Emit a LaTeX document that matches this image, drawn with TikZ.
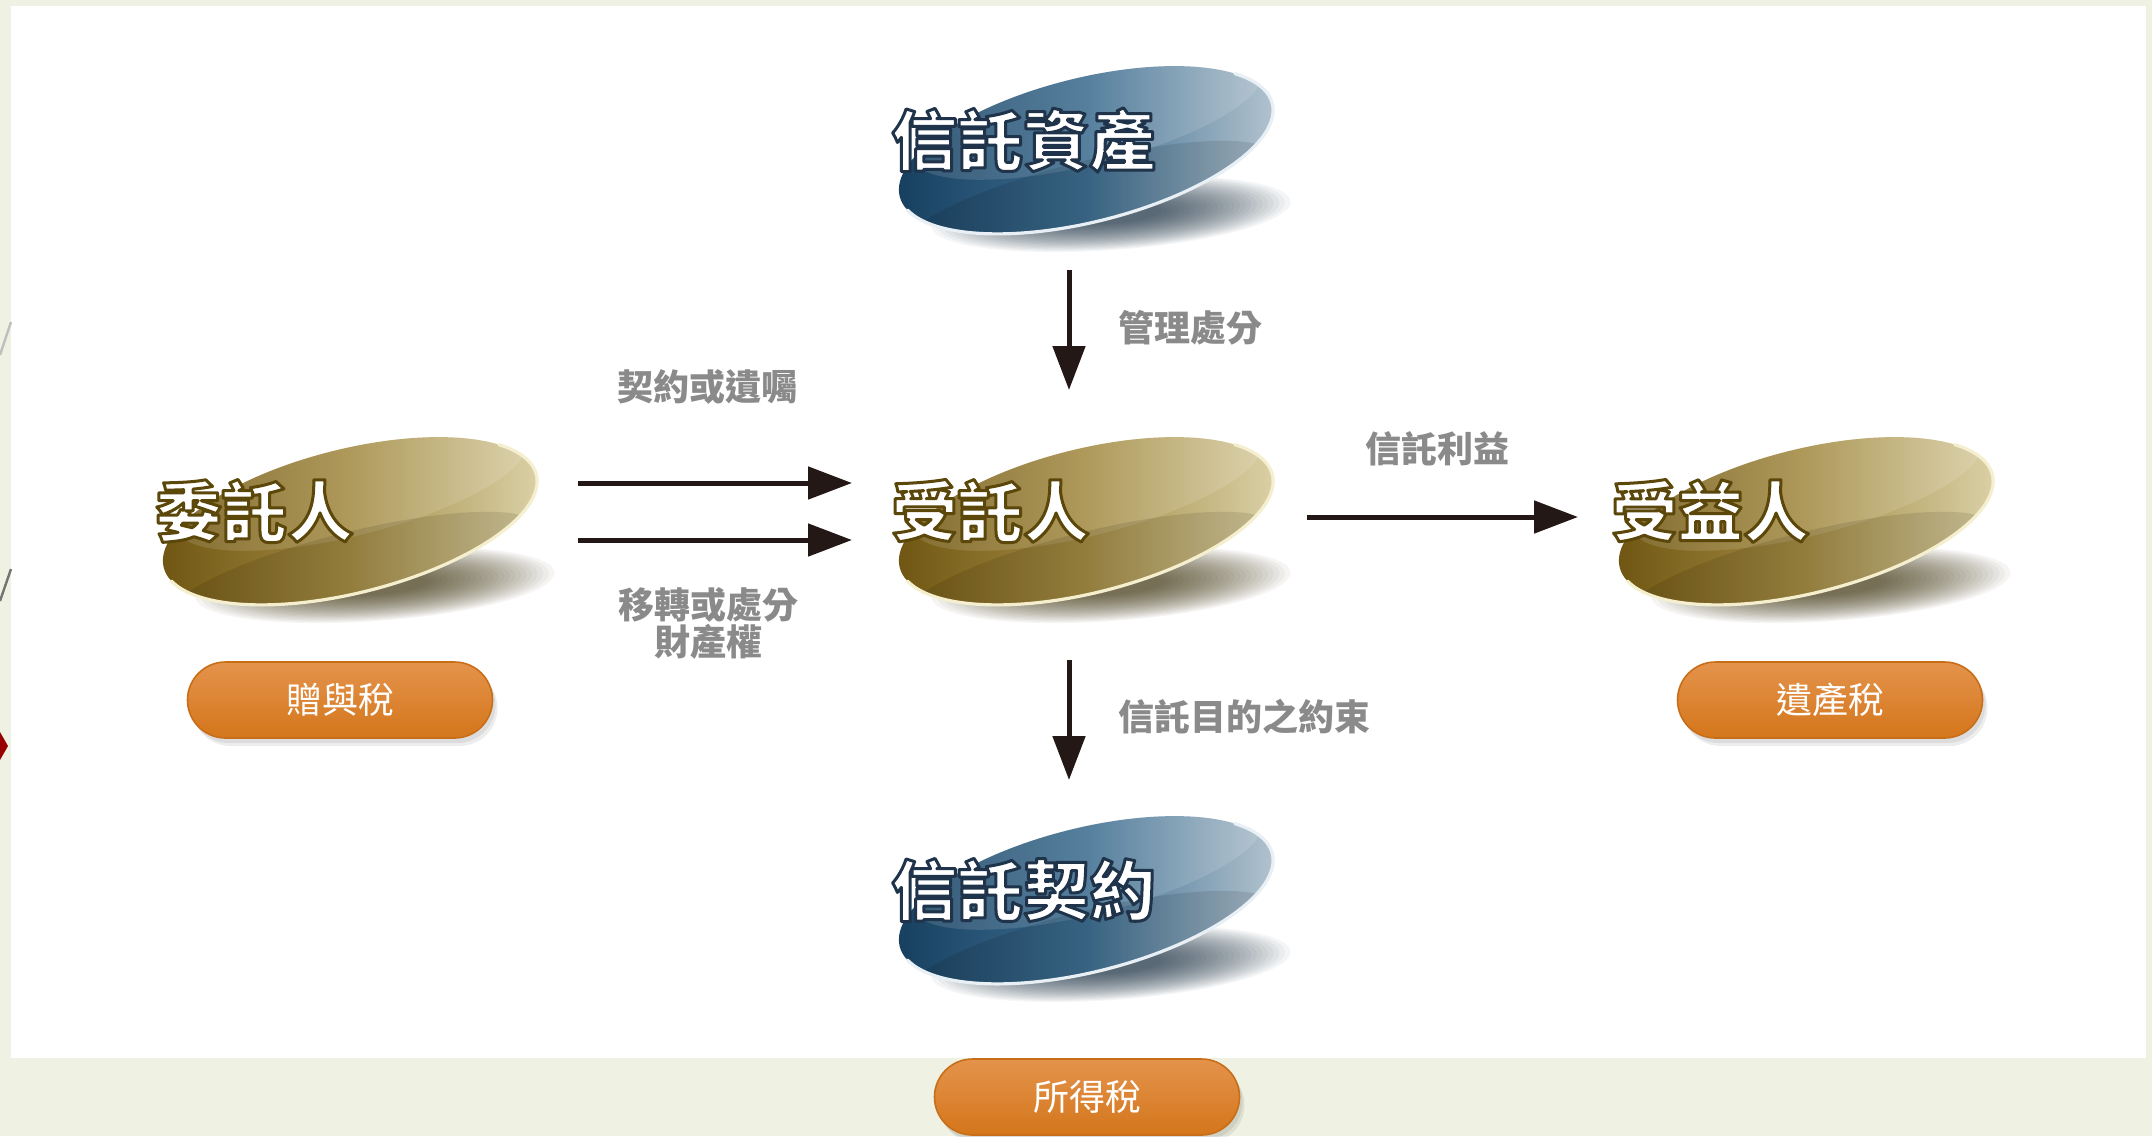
\documentclass[tikz,border=0pt]{standalone}
\usepackage{fontspec}
\newfontfamily\cjk{Noto Sans CJK TC}
\usetikzlibrary{arrows.meta}
\definecolor{bg}{HTML}{EFF2E3}
\definecolor{gdark}{HTML}{6E5410}
\definecolor{gmid}{HTML}{A48C45}
\definecolor{glight}{HTML}{DCD3AA}
\definecolor{grim}{HTML}{F5EFCF}
\definecolor{gshadow}{HTML}{3A2C05}
\definecolor{bdark}{HTML}{163E5E}
\definecolor{bmid}{HTML}{3E6E90}
\definecolor{blight}{HTML}{B7C6D1}
\definecolor{brim}{HTML}{E8F0F5}
\definecolor{bshadow}{HTML}{0E2639}
\definecolor{btntop}{HTML}{E4934C}
\definecolor{btnbot}{HTML}{D4761B}
\definecolor{btnline}{HTML}{C96E18}
\definecolor{arrowc}{HTML}{231815}
\definecolor{labelc}{HTML}{8A8A8A}
% outline strokes (r g b) for the disc texts
\def\glineRGB{0.36 0.28 0.04}
\def\blineRGB{0.12 0.20 0.29}
\newcommand\outlined[2]{\special{pdf:literal direct #1 RG 2 Tr 1.5 w 1 j}#2\special{pdf:literal direct 0 Tr}}
\tikzset{
  arr/.style={draw=arrowc, line width=2.5pt, -{Triangle[length=22pt, width=16pt]}},
  lbl/.style={text=labelc, font=\cjk\bfseries\fontsize{18pt}{18.5pt}\selectfont, inner sep=0pt},
  disctext/.style={anchor=west, inner sep=0pt, text=white, font=\cjk\bfseries\fontsize{33pt}{33pt}\selectfont},
  btn/.style={minimum width=152.5pt, minimum height=38pt, rounded corners=19pt, inner sep=0pt,
    draw=btnline, line width=0.8pt, top color=btntop, bottom color=btnbot, text=white,
    font=\cjk\fontsize{18pt}{18pt}\selectfont},
  btnshadow/.style={minimum width=152.5pt, minimum height=38pt, rounded corners=19pt, inner sep=0pt,
    fill=black, opacity=0.07}
}
\newcommand\disc[5]{%
  \begin{scope}[shift={(#2,#3)}]
    \begin{scope}[shift={(25,-64)}, rotate=4]
      \foreach \k in {0,...,23}
        \fill[#4shadow, opacity=0.045] (0,0) ellipse [x radius={180-5.6*\k}, y radius={36-1.15*\k}];
    \end{scope}
    \begin{scope}[rotate=14]
      \shade[left color=#4dark, right color=#4light, middle color=#4mid] (0,0) ellipse [x radius=192, y radius=72];
      \begin{scope}
        \clip (0,0) ellipse [x radius=192, y radius=72];
        \fill[white, opacity=0.12] (10,34) ellipse [x radius=180, y radius=50];
        \fill[black, opacity=0.10] (-10,-50) ellipse [x radius=190, y radius=40];
      \end{scope}
      \draw[#4rim, line width=1.6pt, line cap=round] (192:192 and 72) arc[start angle=192, end angle=392, x radius=192, y radius=72];
    \end{scope}
    \coordinate (#1) at (0,0);
  \end{scope}
  \node[disctext] (#1t) at (#2-195,#3+10) {\outlined{\csname #4lineRGB\endcsname}{#5}};
}
\newcommand\taxbtn[4]{%
  \node[btnshadow] (#1s1) at (#2+3,#3-5) {};
  \node[btnshadow] (#1s2) at (#2+5,#3-8) {};
  \node[btn] (#1) at (#2,#3) {#4};
}
\begin{document}
\begin{tikzpicture}[x=0.5pt, y=0.5pt]
  \useasboundingbox (0,0) rectangle (2152,-1136);
  \fill[bg] (0,0) rectangle (2152,-1136);
  \fill[white] (11,-6) rectangle (2146,-1058);
  % left edge decorations
  \draw[gray!50, line width=1.2pt] (0,-355) -- (11,-322);
  \draw[gray!90!black, line width=1.2pt] (0,-601) -- (11,-569);
  \fill[red!60!black] (0,-732) -- (8,-746) -- (0,-760) -- cycle;

  \disc{asset}{1086}{-150}{b}{信託資產}
  \disc{settlor}{350}{-521}{g}{委託人}
  \disc{trustee}{1086}{-521}{g}{受託人}
  \disc{benef}{1806}{-521}{g}{受益人}
  \disc{contract}{1086}{-900}{b}{信託契約}

  \coordinate (a1s) at (578,-483);
  \coordinate (a1e) at (852,-483);
  \coordinate (a2s) at (578,-540);
  \coordinate (a2e) at (852,-540);
  \coordinate (a3s) at (1069,-270);
  \coordinate (a3e) at (1069,-390);
  \coordinate (a4s) at (1069,-660);
  \coordinate (a4e) at (1069,-780);
  \coordinate (a5s) at (1307,-517);
  \coordinate (a5e) at (1578,-517);
  \draw[arr] (a1s) -- (a1e);
  \draw[arr] (a2s) -- (a2e);
  \draw[arr] (a3s) -- (a3e);
  \draw[arr] (a4s) -- (a4e);
  \draw[arr] (a5s) -- (a5e);

  \node[lbl] (l1) at (707,-387) {契約或遺囑};
  \node[lbl, align=center] (l2) at (708,-623) {移轉或處分\\財產權};
  \node[lbl, anchor=west] (l3) at (1118,-328) {管理處分};
  \node[lbl, anchor=west] (l4) at (1118,-717) {信託目的之約束};
  \node[lbl] (l5) at (1437,-449) {信託利益};

  \taxbtn{gift}{340}{-700}{贈與稅}
  \taxbtn{estate}{1830}{-700}{遺產稅}
  \taxbtn{income}{1087}{-1097}{所得稅}
\end{tikzpicture}
\end{document}
